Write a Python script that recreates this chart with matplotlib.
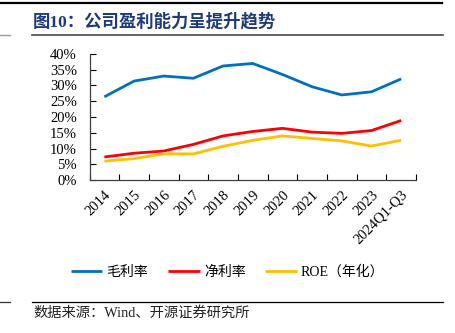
import matplotlib
matplotlib.use("Agg")
import matplotlib.pyplot as plt
import numpy as np
from matplotlib.lines import Line2D
from matplotlib.ticker import FixedLocator, PercentFormatter

plt.rcParams['font.family'] = ['Liberation Serif', 'Noto Sans CJK SC']

### Données
annees = ['2014', '2015', '2016', '2017', '2018', '2019', '2020', '2021', '2022', '2023', '2024Q1-Q3']
marge_brute = [26.4, 31.4, 33.0, 32.3, 36.2, 37.0, 33.5, 29.6, 27.0, 28.0, 32.1]
marge_nette = [7.3, 8.5, 9.2, 11.3, 14.0, 15.4, 16.4, 15.2, 14.8, 15.7, 18.9]
roe = [6.0, 6.8, 8.3, 8.3, 10.7, 12.6, 14.0, 13.2, 12.4, 10.8, 12.6]

noms = ['毛利率', '净利率', 'ROE（年化）']
couleurs = ['#0070C0', '#FF0000', '#FFC000']

### Figure
W, H = 455, 333
fig = plt.figure(figsize=(W / 100, H / 100), dpi=100)
ax = fig.add_axes([89.5 / W, 1 - 180 / H, (416 - 89.5) / W, (180 - 54) / H])

x = np.arange(len(annees))
for serie, nom, c in zip([marge_brute, marge_nette, roe], noms, couleurs):
    ax.plot(x, serie, color=c, lw=2.0, label=nom, solid_capstyle='butt')

ax.set_xlim(-0.5, len(annees) - 0.5)
ax.set_ylim(0, 40)
ax.yaxis.set_major_locator(FixedLocator(np.arange(0, 41, 5)))
ax.yaxis.set_major_formatter(PercentFormatter(decimals=0))
ax.tick_params(axis='y', direction='in', length=4, width=0.8, labelsize=10.5, pad=9)

ax.set_xticks(x)
ax.set_xticklabels(annees, rotation=45, ha='right', rotation_mode='anchor')
ax.tick_params(axis='x', which='major', length=0, labelsize=10.5, pad=6)
ax.xaxis.set_minor_locator(FixedLocator(np.arange(-0.5, len(annees), 1.0)))
ax.tick_params(axis='x', which='minor', direction='in', length=4, width=0.8)

for s in ['top', 'right']:
    ax.spines[s].set_visible(False)
for s in ['left', 'bottom']:
    ax.spines[s].set_color('#404040')
    ax.spines[s].set_linewidth(0.9)

fig.legend(loc='center', bbox_to_anchor=(0.5, 1 - 272 / H), ncol=3, frameon=False,
           fontsize=10, handlelength=2.3, handletextpad=0.3, columnspacing=1.4)

### Titre, lignes et source
fig.text(33 / W, 1 - 22 / H, '图10：公司盈利能力呈提升趋势', fontsize=12.5, fontweight='bold',
         color='#1F3A7A', va='center', ha='left')
fig.text(33 / W, 1 - 313 / H, '数据来源：Wind、开源证券研究所', fontsize=10.3,
         color='#222222', va='center', ha='left')

def trait(x0, x1, y, lw, c):
    fig.add_artist(Line2D([x0 / W, x1 / W], [1 - y / H, 1 - y / H], lw=lw, color=c))

trait(0, 442, 2.5, 1.6, 'black')
trait(32, 443, 34.5, 1.2, '#4a4a4a')
trait(0, 10, 34.5, 1.0, '#9a9a9a')
trait(32, 443, 302, 0.9, 'black')
trait(0, 10, 302, 0.9, '#333333')

fig.savefig('out.png', dpi=100)
